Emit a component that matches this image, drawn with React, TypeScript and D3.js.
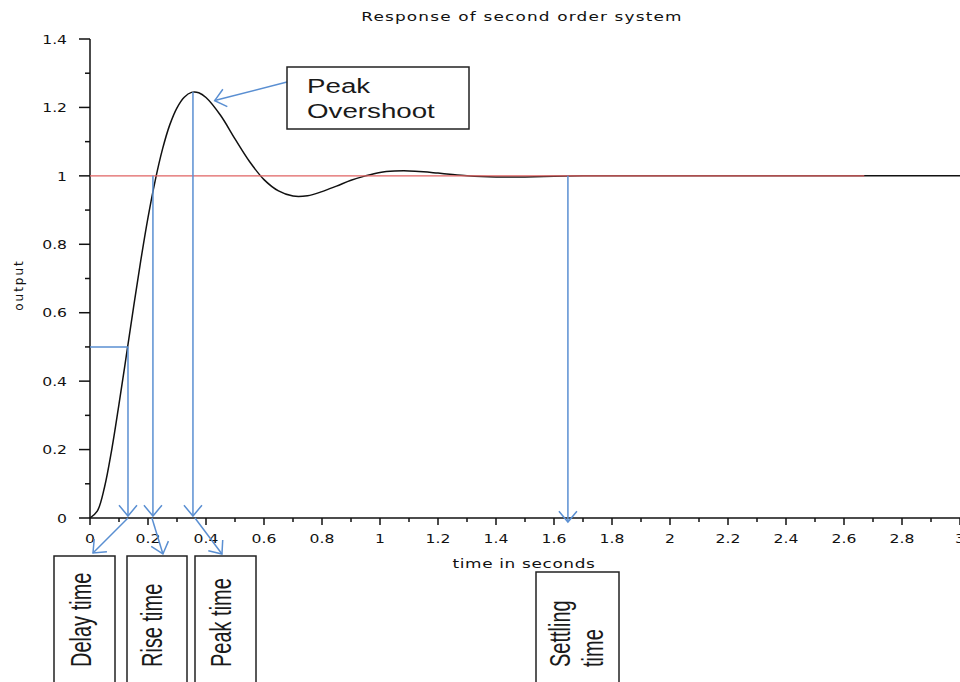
import React from "react";
import * as d3 from "d3";

// ---- data ----
const timeValues = [0, 0.025, 0.05, 0.075, 0.1, 0.125, 0.15, 0.175, 0.2, 0.225, 0.25, 0.275, 0.3, 0.325, 0.35, 0.375, 0.4, 0.45, 0.5, 0.55, 0.6, 0.65, 0.7, 0.75, 0.8, 0.85, 0.9, 0.95, 1.0, 1.05, 1.1, 1.15, 1.2, 1.25, 1.3, 1.35, 1.4, 1.45, 1.5, 1.6, 1.7, 1.8, 2.0, 2.5, 3.0];
const outputValues = [0, 0.02, 0.09, 0.2, 0.333, 0.473, 0.615, 0.752, 0.878, 0.987, 1.078, 1.149, 1.199, 1.23, 1.244, 1.243, 1.229, 1.177, 1.108, 1.042, 0.989, 0.956, 0.941, 0.942, 0.954, 0.97, 0.987, 1.0, 1.01, 1.014, 1.0145, 1.012, 1.008, 1.004, 1.0005, 0.998, 0.9967, 0.9964, 0.997, 0.9988, 1.0003, 1.0006, 1.0, 1.0, 1.0];

const xMajorTicks = [0, 0.2, 0.4, 0.6, 0.8, 1, 1.2, 1.4, 1.6, 1.8, 2, 2.2, 2.4, 2.6, 2.8, 3];
const xTickLabels = ["0", "0.2", "0.4", "0.6", "0.8", "1", "1.2", "1.4", "1.6", "1.8", "2", "2.2", "2.4", "2.6", "2.8", "3"];
const xMinorTicks = [0.1, 0.3, 0.5, 0.7, 0.9, 1.1, 1.3, 1.5, 1.7, 1.9, 2.1, 2.3, 2.5, 2.7, 2.9];
const yMajorTicks = [0, 0.2, 0.4, 0.6, 0.8, 1, 1.2, 1.4];
const yTickLabels = ["0", "0.2", "0.4", "0.6", "0.8", "1", "1.2", "1.4"];
const yMinorTicks = [0.1, 0.3, 0.5, 0.7, 0.9, 1.1, 1.3];

const referenceValue = 1;
const referenceEnd = 2.67;
const halfValue = 0.5;
const delayTime = 0.131;
const riseTime = 0.217;
const peakTime = 0.355;
const peakValue = 1.245;
const settlingTime = 1.648;
const overshootPointer = [0.43, 1.22];

const titleText = "Response of second order system";
const xLabelText = "time in seconds";
const yLabelText = "output";

// ---- layout ----
const W = 960;
const H = 682;
const BLUE = "#5a8fd2";
const RED = "#e06363";
const INK = "#111";
const AXIS_FONT = "DejaVu Sans, sans-serif";
const NOTE_FONT = "Liberation Sans, Arial, sans-serif";

function arrowHead(tx: number, ty: number, fx: number, fy: number, len = 14, half = 40) {
  const ang = Math.atan2(ty - fy, tx - fx);
  const back = ang + Math.PI;
  const h = (half * Math.PI) / 180;
  const a1 = [tx + len * Math.cos(back + h), ty + len * Math.sin(back + h)];
  const a2 = [tx + len * Math.cos(back - h), ty + len * Math.sin(back - h)];
  return `M${a1[0]},${a1[1]}L${tx},${ty}L${a2[0]},${a2[1]}`;
}

function Arrow({ x1, y1, x2, y2 }: { x1: number; y1: number; x2: number; y2: number }) {
  return (
    <g stroke={BLUE} strokeWidth={1.5} fill="none">
      <line x1={x1} y1={y1} x2={x2} y2={y2} />
      <path d={arrowHead(x2, y2, x1, y1)} />
    </g>
  );
}

function VLabel({ cx, y, text }: { cx: number; y: number; text: string }) {
  return (
    <text
      transform={`translate(${cx},${y}) scale(1.5,1) rotate(-90)`}
      dy="0.35em"
      fontFamily={NOTE_FONT}
      fontSize={20}
      fill="#1a1a1a"
    >
      {text}
    </text>
  );
}

function WideText({
  x, y, text, sx, size, ls = 0, anchor = "middle", dy,
}: { x: number; y: number; text: string; sx: number; size: number; ls?: number; anchor?: string; dy?: string }) {
  return (
    <text
      transform={`translate(${x},${y}) scale(${sx},1)`}
      textAnchor={anchor}
      dy={dy}
      fontFamily={AXIS_FONT}
      fontSize={size}
      letterSpacing={ls}
      fill="#111"
    >
      {text}
    </text>
  );
}

export default function App() {
  const x = d3.scaleLinear().domain([0, 3]).range([90, 960]);
  const y = d3.scaleLinear().domain([0, 1.4]).range([518, 39]);

  const pts: [number, number][] = timeValues.map((t, i) => [t, outputValues[i]]);
  const line = d3
    .line<[number, number]>()
    .x((d) => x(d[0]))
    .y((d) => y(d[1]))
    .curve(d3.curveCatmullRom);

  const y0 = y(0);
  const x0 = x(0);

  return (
    <svg
      width={W}
      height={H}
      style={{ position: "absolute", left: 0, top: 0, background: "#fff" }}
    >
      <rect width={W} height={H} fill="#fff" />

      {/* title */}
      <WideText x={522} y={21} text={titleText} sx={1.3} size={13} ls={0.9} />

      {/* axes */}
      <g stroke={INK} strokeWidth={1.5}>
        <line x1={x0} y1={y(1.4)} x2={x0} y2={y0} />
        <line x1={x0} y1={y0} x2={x(3)} y2={y0} />
        {yMajorTicks.map((v) => (
          <line key={"ym" + v} x1={x0 - 11} x2={x0} y1={y(v)} y2={y(v)} />
        ))}
        {yMinorTicks.map((v) => (
          <line key={"yn" + v} x1={x0 - 5} x2={x0} y1={y(v)} y2={y(v)} />
        ))}
        {xMajorTicks.map((v) => (
          <line key={"xm" + v} x1={x(v)} x2={x(v)} y1={y0} y2={y0 + 7} />
        ))}
        {xMinorTicks.map((v) => (
          <line key={"xn" + v} x1={x(v)} x2={x(v)} y1={y0} y2={y0 + 4} />
        ))}
      </g>
      {yMajorTicks.map((v, i) => (
        <WideText key={"yl" + v} x={67} y={y(v)} dy="0.36em" text={yTickLabels[i]} sx={1.2} size={13} anchor="end" />
      ))}
      {xMajorTicks.map((v, i) => (
        <WideText key={"xl" + v} x={x(v)} y={543} text={xTickLabels[i]} sx={1.2} size={13} />
      ))}
      <WideText x={524} y={568} text={xLabelText} sx={1.3} size={13} ls={0.5} />
      <text
        transform={`translate(19,285) rotate(-90)`}
        dy="0.35em"
        textAnchor="middle"
        fontFamily={AXIS_FONT}
        fontSize={12}
        letterSpacing={2}
        fill="#111"
      >
        {yLabelText}
      </text>

      {/* response curve */}
      <path d={line(pts) || ""} fill="none" stroke="#111" strokeWidth={1.5} />

      {/* reference line */}
      <line x1={x0} x2={x(referenceEnd)} y1={y(referenceValue)} y2={y(referenceValue)} stroke={RED} strokeWidth={1.3} />

      {/* annotations */}
      <g stroke={BLUE} strokeWidth={1.5} fill="none">
        <line x1={x0} x2={x(delayTime)} y1={y(halfValue)} y2={y(halfValue)} />
      </g>
      <Arrow x1={x(delayTime)} y1={y(halfValue)} x2={x(delayTime)} y2={y0 - 2} />
      <Arrow x1={x(riseTime)} y1={y(referenceValue)} x2={x(riseTime)} y2={y0 - 2} />
      <Arrow x1={x(peakTime)} y1={y(peakValue)} x2={x(peakTime)} y2={y0 - 2} />
      <Arrow x1={x(settlingTime)} y1={y(referenceValue)} x2={x(settlingTime)} y2={y0 + 4} />

      <Arrow x1={x(delayTime)} y1={y0} x2={x(delayTime) - 35} y2={y0 + 35} />
      <Arrow x1={x(riseTime) - 1} y1={y0} x2={x(riseTime) + 10} y2={y0 + 36} />
      <Arrow x1={x(peakTime) + 2} y1={y0} x2={x(peakTime) + 29} y2={y0 + 36} />

      <Arrow x1={287} y1={82} x2={x(overshootPointer[0])} y2={y(overshootPointer[1])} />

      {/* boxes */}
      <g fill="none" stroke="#222" strokeWidth={1.5}>
        <rect x={287} y={67} width={182} height={62} />
        <rect x={54} y={556} width={61} height={140} />
        <rect x={127} y={556} width={60} height={140} />
        <rect x={195} y={556} width={61} height={140} />
        <rect x={536} y={572} width={83} height={140} />
      </g>

      <g fontFamily={NOTE_FONT} fontSize={21} fill="#1a1a1a">
        <text transform="translate(307,93) scale(1.32,1)">Peak</text>
        <text transform="translate(307,118) scale(1.32,1)">Overshoot</text>
      </g>

      <VLabel cx={80} y={667} text="Delay time" />
      <VLabel cx={151} y={667} text="Rise time" />
      <VLabel cx={220} y={667} text="Peak time" />
      <VLabel cx={559} y={667} text="Settling" />
      <VLabel cx={592} y={667} text="time" />
    </svg>
  );
}
